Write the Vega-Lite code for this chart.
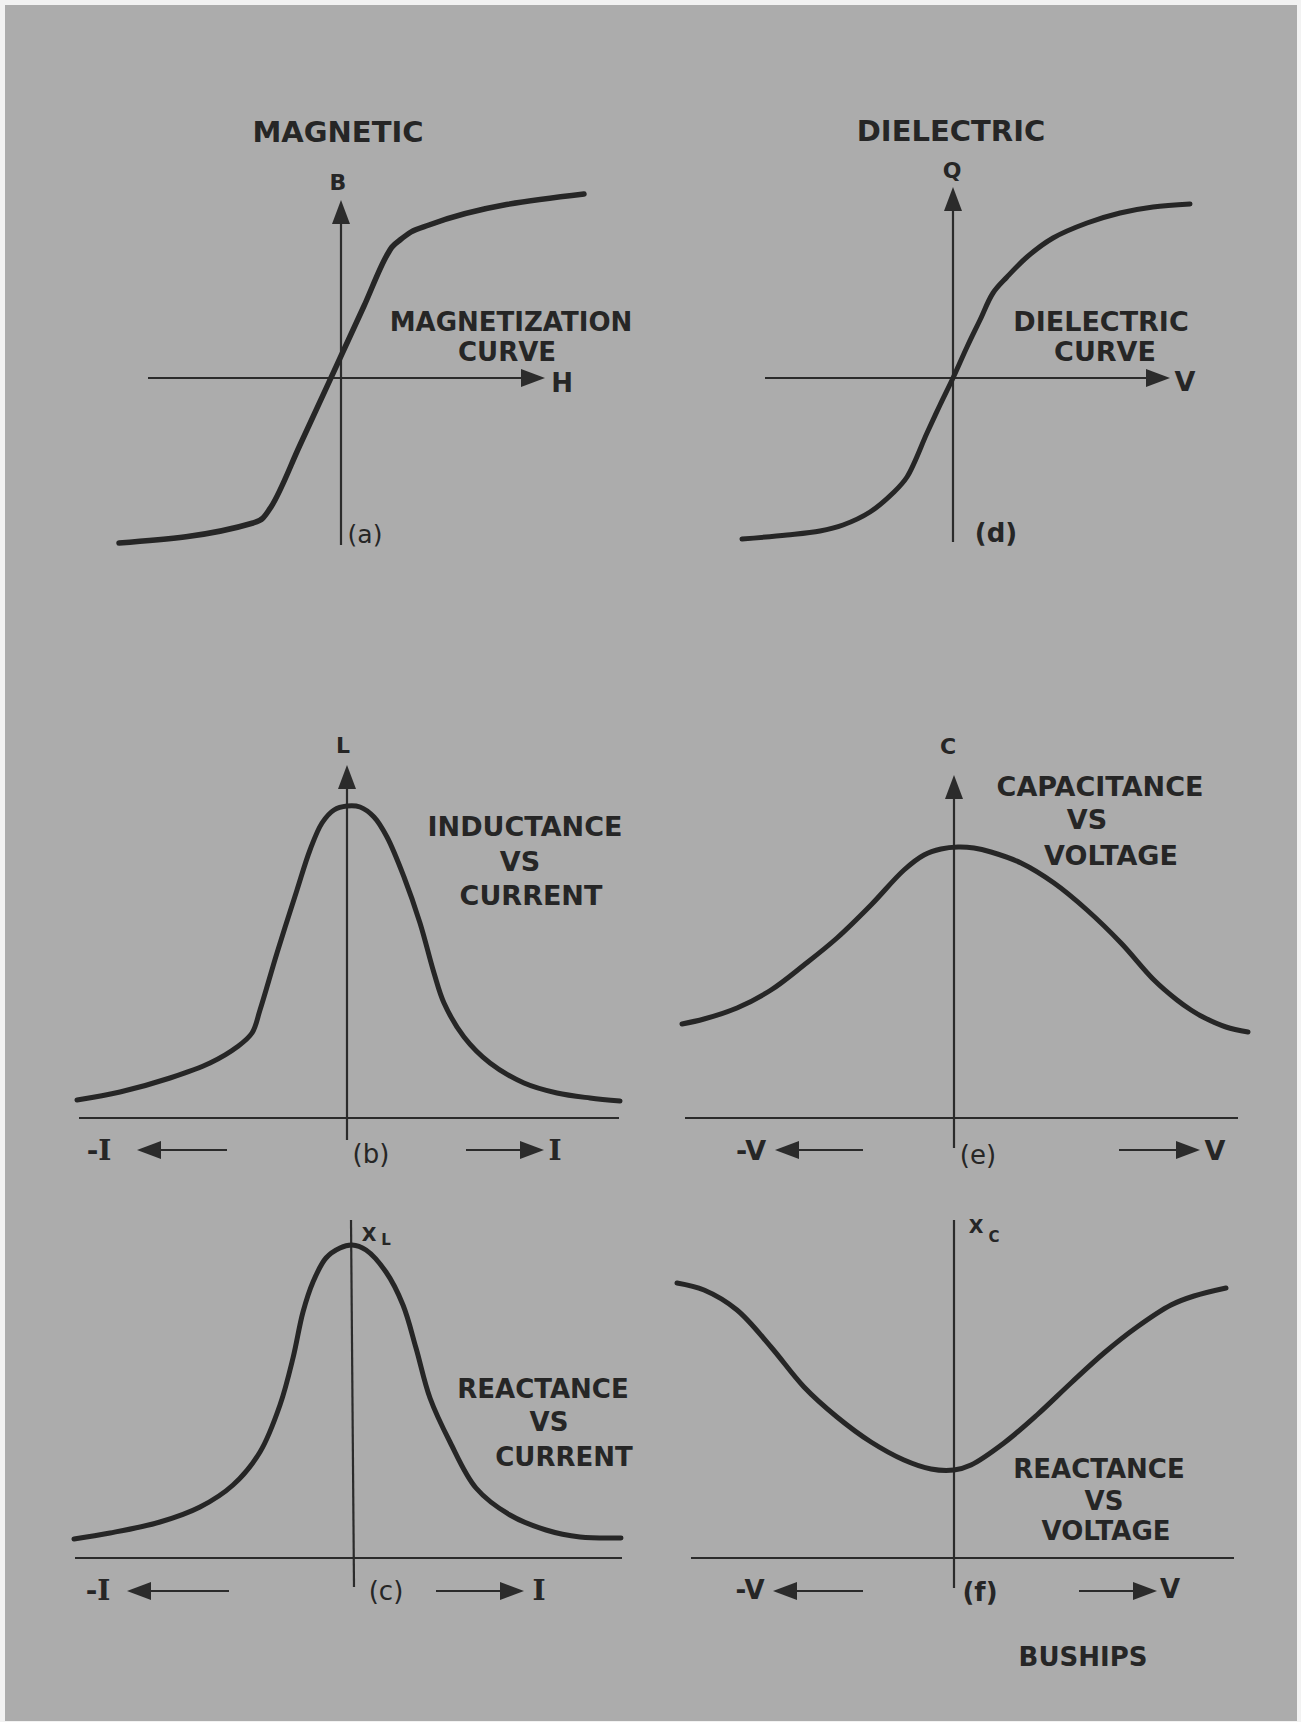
{
"$schema": "https://vega.github.io/schema/vega-lite/v6.json",
"background": "#f2f2f2",
"padding": {"left": 5, "top": 5, "right": 4, "bottom": 1},
"config": {"view": {"fill": "#acacac", "stroke": null}},
"columns": 2,
"spacing": 0,
"bounds": "flush",
"resolve": {"scale": {"x": "independent", "y": "independent", "shape": "independent"}},
"datasets": {
"curves": [
{"panel":"a","x":-2.22,"y":-1.65},{"panel":"a","x":-0.88,"y":-1.45},{"panel":"a","x":-0.78,"y":-1.40},{"panel":"a","x":-0.70,"y":-1.29},{"panel":"a","x":-0.41,"y":-0.67},{"panel":"a","x":0,"y":0.22},{"panel":"a","x":0.23,"y":0.72},{"panel":"a","x":0.46,"y":1.23},{"panel":"a","x":0.51,"y":1.31},{"panel":"a","x":0.59,"y":1.38},{"panel":"a","x":0.70,"y":1.46},{"panel":"a","x":0.88,"y":1.53},{"panel":"a","x":2.43,"y":1.84},
{"panel":"d","x":-2.11,"y":-1.61},{"panel":"d","x":-1.66,"y":-1.57},{"panel":"d","x":-1.33,"y":-1.53},{"panel":"d","x":-1.10,"y":-1.47},{"panel":"d","x":-0.83,"y":-1.34},{"panel":"d","x":-0.60,"y":-1.15},{"panel":"d","x":-0.46,"y":-0.99},{"panel":"d","x":-0.26,"y":-0.55},{"panel":"d","x":-0.13,"y":-0.27},{"panel":"d","x":0,"y":0},{"panel":"d","x":0.14,"y":0.31},{"panel":"d","x":0.27,"y":0.58},{"panel":"d","x":0.40,"y":0.85},{"panel":"d","x":0.54,"y":1.01},{"panel":"d","x":0.74,"y":1.21},{"panel":"d","x":1.00,"y":1.40},{"panel":"d","x":1.34,"y":1.55},{"panel":"d","x":1.67,"y":1.65},{"panel":"d","x":2.00,"y":1.71},{"panel":"d","x":2.37,"y":1.74},
{"panel":"b","x":-2.70,"y":0.18},{"panel":"b","x":-2.27,"y":0.26},{"panel":"b","x":-1.77,"y":0.40},{"panel":"b","x":-1.37,"y":0.55},{"panel":"b","x":-1.10,"y":0.71},{"panel":"b","x":-0.95,"y":0.85},{"panel":"b","x":-0.87,"y":1.08},{"panel":"b","x":-0.70,"y":1.65},{"panel":"b","x":-0.50,"y":2.28},{"panel":"b","x":-0.37,"y":2.68},{"panel":"b","x":-0.25,"y":2.95},{"panel":"b","x":-0.13,"y":3.08},{"panel":"b","x":0,"y":3.12},{"panel":"b","x":0.13,"y":3.11},{"panel":"b","x":0.27,"y":3.01},{"panel":"b","x":0.40,"y":2.81},{"panel":"b","x":0.57,"y":2.41},{"panel":"b","x":0.73,"y":1.95},{"panel":"b","x":0.87,"y":1.45},{"panel":"b","x":0.97,"y":1.15},{"panel":"b","x":1.17,"y":0.81},{"panel":"b","x":1.43,"y":0.55},{"panel":"b","x":1.77,"y":0.35},{"panel":"b","x":2.10,"y":0.25},{"panel":"b","x":2.43,"y":0.20},{"panel":"b","x":2.73,"y":0.17},
{"panel":"e","x":-2.72,"y":0.94},{"panel":"e","x":-2.50,"y":0.99},{"panel":"e","x":-2.17,"y":1.10},{"panel":"e","x":-1.83,"y":1.28},{"panel":"e","x":-1.50,"y":1.53},{"panel":"e","x":-1.17,"y":1.80},{"panel":"e","x":-0.83,"y":2.13},{"panel":"e","x":-0.50,"y":2.48},{"panel":"e","x":-0.30,"y":2.63},{"panel":"e","x":-0.13,"y":2.69},{"panel":"e","x":0.04,"y":2.71},{"panel":"e","x":0.20,"y":2.70},{"panel":"e","x":0.37,"y":2.66},{"panel":"e","x":0.67,"y":2.55},{"panel":"e","x":1.00,"y":2.35},{"panel":"e","x":1.33,"y":2.08},{"panel":"e","x":1.67,"y":1.75},{"panel":"e","x":2.00,"y":1.38},{"panel":"e","x":2.23,"y":1.18},{"panel":"e","x":2.37,"y":1.08},{"panel":"e","x":2.49,"y":1.01},{"panel":"e","x":2.72,"y":0.91},{"panel":"e","x":2.94,"y":0.86},
{"panel":"c","x":-2.78,"y":0.19},{"panel":"c","x":-2.42,"y":0.25},{"panel":"c","x":-1.92,"y":0.36},{"panel":"c","x":-1.52,"y":0.51},{"panel":"c","x":-1.19,"y":0.73},{"panel":"c","x":-0.92,"y":1.06},{"panel":"c","x":-0.72,"y":1.53},{"panel":"c","x":-0.59,"y":2.00},{"panel":"c","x":-0.49,"y":2.46},{"panel":"c","x":-0.39,"y":2.76},{"panel":"c","x":-0.26,"y":3.00},{"panel":"c","x":-0.12,"y":3.10},{"panel":"c","x":0,"y":3.13},{"panel":"c","x":0.14,"y":3.08},{"panel":"c","x":0.34,"y":2.86},{"panel":"c","x":0.51,"y":2.53},{"panel":"c","x":0.64,"y":2.10},{"panel":"c","x":0.78,"y":1.60},{"panel":"c","x":0.98,"y":1.16},{"panel":"c","x":1.24,"y":0.70},{"panel":"c","x":1.58,"y":0.43},{"panel":"c","x":1.94,"y":0.28},{"panel":"c","x":2.28,"y":0.21},{"panel":"c","x":2.69,"y":0.20},
{"panel":"f","x":-2.77,"y":2.75},{"panel":"f","x":-2.50,"y":2.68},{"panel":"f","x":-2.17,"y":2.48},{"panel":"f","x":-1.83,"y":2.11},{"panel":"f","x":-1.50,"y":1.71},{"panel":"f","x":-1.17,"y":1.41},{"panel":"f","x":-0.83,"y":1.16},{"panel":"f","x":-0.50,"y":0.98},{"panel":"f","x":-0.23,"y":0.89},{"panel":"f","x":0,"y":0.88},{"panel":"f","x":0.17,"y":0.93},{"panel":"f","x":0.50,"y":1.15},{"panel":"f","x":0.83,"y":1.43},{"panel":"f","x":1.17,"y":1.75},{"panel":"f","x":1.50,"y":2.05},{"panel":"f","x":1.83,"y":2.31},{"panel":"f","x":2.17,"y":2.53},{"panel":"f","x":2.40,"y":2.62},{"panel":"f","x":2.72,"y":2.70}
],
"rules": [
{"panel":"a","x":-1.93,"x2":1.95,"y":0,"y2":0},{"panel":"a","x":0,"x2":0,"y":-1.67,"y2":1.65},
{"panel":"d","x":-1.88,"x2":2.05,"y":0,"y2":0},{"panel":"d","x":0,"x2":0,"y":-1.64,"y2":1.80},
{"panel":"b","x":-2.68,"x2":2.72,"y":0,"y2":0},{"panel":"b","x":0,"x2":0,"y":-0.22,"y2":3.40},{"panel":"b","x":-2.02,"x2":-1.20,"y":-0.32,"y2":-0.32},{"panel":"b","x":1.19,"x2":1.88,"y":-0.32,"y2":-0.32},
{"panel":"e","x":-2.69,"x2":2.84,"y":0,"y2":0},{"panel":"e","x":0,"x2":0,"y":-0.30,"y2":3.30},{"panel":"e","x":-1.70,"x2":-0.91,"y":-0.32,"y2":-0.32},{"panel":"e","x":1.65,"x2":2.37,"y":-0.32,"y2":-0.32},
{"panel":"c","x":-2.77,"x2":2.70,"y":0,"y2":0},{"panel":"c","x":-0.01,"x2":0.02,"y":3.38,"y2":-0.29},{"panel":"c","x":-2.17,"x2":-1.23,"y":-0.33,"y2":-0.33},{"panel":"c","x":0.84,"x2":1.64,"y":-0.33,"y2":-0.33},
{"panel":"f","x":-2.63,"x2":2.80,"y":0,"y2":0},{"panel":"f","x":0,"x2":0,"y":-0.30,"y2":3.38},{"panel":"f","x":-1.72,"x2":-0.91,"y":-0.33,"y2":-0.33},{"panel":"f","x":1.25,"x2":1.94,"y":-0.33,"y2":-0.33}
],
"heads": [
{"panel":"a","x":2.04,"y":0,"dir":"right"},{"panel":"a","x":0,"y":1.78,"dir":"up"},
{"panel":"d","x":2.17,"y":0,"dir":"right"},{"panel":"d","x":0,"y":1.91,"dir":"up"},
{"panel":"b","x":0,"y":3.53,"dir":"up"},{"panel":"b","x":-2.10,"y":-0.32,"dir":"left"},{"panel":"b","x":1.97,"y":-0.32,"dir":"right"},
{"panel":"e","x":0,"y":3.43,"dir":"up"},{"panel":"e","x":-1.79,"y":-0.32,"dir":"left"},{"panel":"e","x":2.46,"y":-0.32,"dir":"right"},
{"panel":"c","x":-2.25,"y":-0.33,"dir":"left"},{"panel":"c","x":1.72,"y":-0.33,"dir":"right"},
{"panel":"f","x":-1.81,"y":-0.33,"dir":"left"},{"panel":"f","x":2.03,"y":-0.33,"dir":"right"}
],
"labels": [
{"panel":"a","kind":"title","x":-0.03,"y":2.45,"text":"MAGNETIC"},
{"panel":"a","kind":"axis","x":-0.03,"y":1.95,"text":"B"},
{"panel":"a","kind":"caption","x":2.21,"y":-0.06,"text":"H"},
{"panel":"a","kind":"caption","x":1.70,"y":0.55,"text":"MAGNETIZATION"},
{"panel":"a","kind":"caption","x":1.66,"y":0.25,"text":"CURVE"},
{"panel":"a","kind":"panel","x":0.24,"y":-1.57,"text":"(a)"},
{"panel":"d","kind":"title","x":-0.02,"y":2.46,"text":"DIELECTRIC"},
{"panel":"d","kind":"axis","x":-0.01,"y":2.07,"text":"Q"},
{"panel":"d","kind":"caption","x":2.32,"y":-0.05,"text":"V"},
{"panel":"d","kind":"caption","x":1.48,"y":0.55,"text":"DIELECTRIC"},
{"panel":"d","kind":"caption","x":1.52,"y":0.25,"text":"CURVE"},
{"panel":"d","kind":"panel","x":0.43,"y":-1.56,"text":"(d)"},
{"panel":"b","kind":"axis","x":-0.04,"y":3.72,"text":"L"},
{"panel":"b","kind":"caption","x":1.78,"y":2.90,"text":"INDUCTANCE"},
{"panel":"b","kind":"caption","x":1.73,"y":2.55,"text":"VS"},
{"panel":"b","kind":"caption","x":1.84,"y":2.21,"text":"CURRENT"},
{"panel":"b","kind":"ilabel","x":-2.48,"y":-0.34,"text":"-I"},
{"panel":"b","kind":"panel","x":0.24,"y":-0.37,"text":"(b)"},
{"panel":"b","kind":"ilabel","x":2.08,"y":-0.34,"text":"I"},
{"panel":"e","kind":"axis","x":-0.06,"y":3.71,"text":"C"},
{"panel":"e","kind":"caption","x":1.46,"y":3.30,"text":"CAPACITANCE"},
{"panel":"e","kind":"caption","x":1.33,"y":2.97,"text":"VS"},
{"panel":"e","kind":"caption","x":1.57,"y":2.61,"text":"VOLTAGE"},
{"panel":"e","kind":"caption","x":-2.03,"y":-0.34,"text":"-V"},
{"panel":"e","kind":"panel","x":0.24,"y":-0.38,"text":"(e)"},
{"panel":"e","kind":"caption","x":2.61,"y":-0.34,"text":"V"},
{"panel":"c","kind":"xsym","x":0.17,"y":3.23,"text":"X"},
{"panel":"c","kind":"sub","x":0.34,"y":3.18,"text":"L"},
{"panel":"c","kind":"caption","x":1.91,"y":1.68,"text":"REACTANCE"},
{"panel":"c","kind":"caption","x":1.97,"y":1.35,"text":"VS"},
{"panel":"c","kind":"caption","x":2.12,"y":1.00,"text":"CURRENT"},
{"panel":"c","kind":"ilabel","x":-2.54,"y":-0.34,"text":"-I"},
{"panel":"c","kind":"panel","x":0.34,"y":-0.34,"text":"(c)"},
{"panel":"c","kind":"ilabel","x":1.87,"y":-0.34,"text":"I"},
{"panel":"f","kind":"xsym","x":0.22,"y":3.31,"text":"X"},
{"panel":"f","kind":"sub","x":0.40,"y":3.21,"text":"C"},
{"panel":"f","kind":"caption","x":1.45,"y":0.88,"text":"REACTANCE"},
{"panel":"f","kind":"caption","x":1.50,"y":0.56,"text":"VS"},
{"panel":"f","kind":"caption","x":1.52,"y":0.26,"text":"VOLTAGE"},
{"panel":"f","kind":"caption","x":-2.04,"y":-0.33,"text":"-V"},
{"panel":"f","kind":"panel","x":0.26,"y":-0.35,"text":"(f)"},
{"panel":"f","kind":"caption","x":2.16,"y":-0.32,"text":"V"},
{"panel":"f","kind":"caption","x":1.29,"y":-1.00,"text":"BUSHIPS"}
]
},
"concat": [
{
"width": 645, "height": 635,
"encoding": {
"x": {"field": "x", "type": "quantitative", "scale": {"domain": [-3.36, 3.09], "nice": false, "zero": false}, "axis": null},
"y": {"field": "y", "type": "quantitative", "scale": {"domain": [-2.62, 3.73], "nice": false, "zero": false}, "axis": null}
},
"layer": [
{"data": {"name": "rules"}, "transform": [{"filter": "datum.panel==='a'"}], "mark": {"type": "rule", "color": "#2b2b2b", "strokeWidth": 2.2}, "encoding": {"x2": {"field": "x2"}, "y2": {"field": "y2"}}},
{"data": {"name": "heads"}, "transform": [{"filter": "datum.panel==='a'"}], "mark": {"type": "point", "filled": true, "opacity": 1, "size": 576, "color": "#2b2b2b"}, "encoding": {"shape": {"field": "dir", "type": "nominal", "scale": {"domain": ["up", "right", "left"], "range": ["M0,0L-0.75,2L0.75,2Z", "M0,0L-2,-0.75L-2,0.75Z", "M0,0L2,-0.75L2,0.75Z"]}, "legend": null}}},
{"data": {"name": "curves"}, "transform": [{"filter": "datum.panel==='a'"}], "mark": {"type": "line", "color": "#262626", "strokeWidth": 5.5, "interpolate": "monotone", "strokeCap": "round"}, "encoding": {}},
{"data": {"name": "labels"}, "transform": [{"filter": "datum.panel==='a' && datum.kind==='title'"}], "mark": {"type": "text", "font": "DejaVu Sans", "fontWeight": "bold", "fontSize": 29, "color": "#262626", "align": "center", "baseline": "middle"}, "encoding": {"text": {"field": "text"}}},
{"data": {"name": "labels"}, "transform": [{"filter": "datum.panel==='a' && datum.kind==='caption'"}], "mark": {"type": "text", "font": "DejaVu Sans", "fontWeight": "bold", "fontSize": 26, "color": "#262626", "align": "center", "baseline": "middle"}, "encoding": {"text": {"field": "text"}}},
{"data": {"name": "labels"}, "transform": [{"filter": "datum.panel==='a' && datum.kind==='axis'"}], "mark": {"type": "text", "font": "DejaVu Sans", "fontWeight": "bold", "fontSize": 22, "color": "#262626", "align": "center", "baseline": "middle"}, "encoding": {"text": {"field": "text"}}},
{"data": {"name": "labels"}, "transform": [{"filter": "datum.panel==='a' && datum.kind==='panel'"}], "mark": {"type": "text", "font": "DejaVu Sans", "fontWeight": "normal", "fontSize": 25, "color": "#262626", "align": "center", "baseline": "middle"}, "encoding": {"text": {"field": "text"}}}
]
},
{
"width": 647, "height": 635,
"encoding": {
"x": {"field": "x", "type": "quantitative", "scale": {"domain": [-3.03, 3.44], "nice": false, "zero": false}, "axis": null},
"y": {"field": "y", "type": "quantitative", "scale": {"domain": [-2.62, 3.73], "nice": false, "zero": false}, "axis": null}
},
"layer": [
{"data": {"name": "rules"}, "transform": [{"filter": "datum.panel==='d'"}], "mark": {"type": "rule", "color": "#2b2b2b", "strokeWidth": 2.2}, "encoding": {"x2": {"field": "x2"}, "y2": {"field": "y2"}}},
{"data": {"name": "heads"}, "transform": [{"filter": "datum.panel==='d'"}], "mark": {"type": "point", "filled": true, "opacity": 1, "size": 576, "color": "#2b2b2b"}, "encoding": {"shape": {"field": "dir", "type": "nominal", "scale": {"domain": ["up", "right", "left"], "range": ["M0,0L-0.75,2L0.75,2Z", "M0,0L-2,-0.75L-2,0.75Z", "M0,0L2,-0.75L2,0.75Z"]}, "legend": null}}},
{"data": {"name": "curves"}, "transform": [{"filter": "datum.panel==='d'"}], "mark": {"type": "line", "color": "#262626", "strokeWidth": 5, "interpolate": "catmull-rom", "strokeCap": "round"}, "encoding": {}},
{"data": {"name": "labels"}, "transform": [{"filter": "datum.panel==='d' && datum.kind==='title'"}], "mark": {"type": "text", "font": "DejaVu Sans", "fontWeight": "bold", "fontSize": 29, "color": "#262626", "align": "center", "baseline": "middle"}, "encoding": {"text": {"field": "text"}}},
{"data": {"name": "labels"}, "transform": [{"filter": "datum.panel==='d' && datum.kind==='caption'"}], "mark": {"type": "text", "font": "DejaVu Sans", "fontWeight": "bold", "fontSize": 27, "color": "#262626", "align": "center", "baseline": "middle"}, "encoding": {"text": {"field": "text"}}},
{"data": {"name": "labels"}, "transform": [{"filter": "datum.panel==='d' && datum.kind==='axis'"}], "mark": {"type": "text", "font": "DejaVu Sans", "fontWeight": "bold", "fontSize": 22, "color": "#262626", "align": "center", "baseline": "middle"}, "encoding": {"text": {"field": "text"}}},
{"data": {"name": "labels"}, "transform": [{"filter": "datum.panel==='d' && datum.kind==='panel'"}], "mark": {"type": "text", "font": "DejaVu Sans", "fontWeight": "bold", "fontSize": 26, "color": "#262626", "align": "center", "baseline": "middle"}, "encoding": {"text": {"field": "text"}}}
]
},
{
"width": 645, "height": 550,
"encoding": {
"x": {"field": "x", "type": "quantitative", "scale": {"domain": [-3.42, 3.03], "nice": false, "zero": false}, "axis": null},
"y": {"field": "y", "type": "quantitative", "scale": {"domain": [-0.72, 4.78], "nice": false, "zero": false}, "axis": null}
},
"layer": [
{"data": {"name": "rules"}, "transform": [{"filter": "datum.panel==='b'"}], "mark": {"type": "rule", "color": "#2b2b2b", "strokeWidth": 2.2}, "encoding": {"x2": {"field": "x2"}, "y2": {"field": "y2"}}},
{"data": {"name": "heads"}, "transform": [{"filter": "datum.panel==='b'"}], "mark": {"type": "point", "filled": true, "opacity": 1, "size": 576, "color": "#2b2b2b"}, "encoding": {"shape": {"field": "dir", "type": "nominal", "scale": {"domain": ["up", "right", "left"], "range": ["M0,0L-0.75,2L0.75,2Z", "M0,0L-2,-0.75L-2,0.75Z", "M0,0L2,-0.75L2,0.75Z"]}, "legend": null}}},
{"data": {"name": "curves"}, "transform": [{"filter": "datum.panel==='b'"}], "mark": {"type": "line", "color": "#262626", "strokeWidth": 5, "interpolate": "catmull-rom", "strokeCap": "round"}, "encoding": {}},
{"data": {"name": "labels"}, "transform": [{"filter": "datum.panel==='b' && datum.kind==='caption'"}], "mark": {"type": "text", "font": "DejaVu Sans", "fontWeight": "bold", "fontSize": 27, "color": "#262626", "align": "center", "baseline": "middle"}, "encoding": {"text": {"field": "text"}}},
{"data": {"name": "labels"}, "transform": [{"filter": "datum.panel==='b' && datum.kind==='axis'"}], "mark": {"type": "text", "font": "DejaVu Sans", "fontWeight": "bold", "fontSize": 22, "color": "#262626", "align": "center", "baseline": "middle"}, "encoding": {"text": {"field": "text"}}},
{"data": {"name": "labels"}, "transform": [{"filter": "datum.panel==='b' && datum.kind==='ilabel'"}], "mark": {"type": "text", "font": "DejaVu Serif", "fontWeight": "bold", "fontSize": 28, "color": "#262626", "align": "center", "baseline": "middle"}, "encoding": {"text": {"field": "text"}}},
{"data": {"name": "labels"}, "transform": [{"filter": "datum.panel==='b' && datum.kind==='panel'"}], "mark": {"type": "text", "font": "DejaVu Sans", "fontWeight": "normal", "fontSize": 26, "color": "#262626", "align": "center", "baseline": "middle"}, "encoding": {"text": {"field": "text"}}}
]
},
{
"width": 647, "height": 550,
"encoding": {
"x": {"field": "x", "type": "quantitative", "scale": {"domain": [-3.04, 3.43], "nice": false, "zero": false}, "axis": null},
"y": {"field": "y", "type": "quantitative", "scale": {"domain": [-0.72, 4.78], "nice": false, "zero": false}, "axis": null}
},
"layer": [
{"data": {"name": "rules"}, "transform": [{"filter": "datum.panel==='e'"}], "mark": {"type": "rule", "color": "#2b2b2b", "strokeWidth": 2.2}, "encoding": {"x2": {"field": "x2"}, "y2": {"field": "y2"}}},
{"data": {"name": "heads"}, "transform": [{"filter": "datum.panel==='e'"}], "mark": {"type": "point", "filled": true, "opacity": 1, "size": 576, "color": "#2b2b2b"}, "encoding": {"shape": {"field": "dir", "type": "nominal", "scale": {"domain": ["up", "right", "left"], "range": ["M0,0L-0.75,2L0.75,2Z", "M0,0L-2,-0.75L-2,0.75Z", "M0,0L2,-0.75L2,0.75Z"]}, "legend": null}}},
{"data": {"name": "curves"}, "transform": [{"filter": "datum.panel==='e'"}], "mark": {"type": "line", "color": "#262626", "strokeWidth": 5, "interpolate": "catmull-rom", "strokeCap": "round"}, "encoding": {}},
{"data": {"name": "labels"}, "transform": [{"filter": "datum.panel==='e' && datum.kind==='caption'"}], "mark": {"type": "text", "font": "DejaVu Sans", "fontWeight": "bold", "fontSize": 27, "color": "#262626", "align": "center", "baseline": "middle"}, "encoding": {"text": {"field": "text"}}},
{"data": {"name": "labels"}, "transform": [{"filter": "datum.panel==='e' && datum.kind==='axis'"}], "mark": {"type": "text", "font": "DejaVu Sans", "fontWeight": "bold", "fontSize": 22, "color": "#262626", "align": "center", "baseline": "middle"}, "encoding": {"text": {"field": "text"}}},
{"data": {"name": "labels"}, "transform": [{"filter": "datum.panel==='e' && datum.kind==='panel'"}], "mark": {"type": "text", "font": "DejaVu Sans", "fontWeight": "normal", "fontSize": 26, "color": "#262626", "align": "center", "baseline": "middle"}, "encoding": {"text": {"field": "text"}}}
]
},
{
"width": 645, "height": 531,
"encoding": {
"x": {"field": "x", "type": "quantitative", "scale": {"domain": [-3.47, 2.98], "nice": false, "zero": false}, "axis": null},
"y": {"field": "y", "type": "quantitative", "scale": {"domain": [-1.63, 3.68], "nice": false, "zero": false}, "axis": null}
},
"layer": [
{"data": {"name": "rules"}, "transform": [{"filter": "datum.panel==='c'"}], "mark": {"type": "rule", "color": "#2b2b2b", "strokeWidth": 2.2}, "encoding": {"x2": {"field": "x2"}, "y2": {"field": "y2"}}},
{"data": {"name": "heads"}, "transform": [{"filter": "datum.panel==='c'"}], "mark": {"type": "point", "filled": true, "opacity": 1, "size": 576, "color": "#2b2b2b"}, "encoding": {"shape": {"field": "dir", "type": "nominal", "scale": {"domain": ["up", "right", "left"], "range": ["M0,0L-0.75,2L0.75,2Z", "M0,0L-2,-0.75L-2,0.75Z", "M0,0L2,-0.75L2,0.75Z"]}, "legend": null}}},
{"data": {"name": "curves"}, "transform": [{"filter": "datum.panel==='c'"}], "mark": {"type": "line", "color": "#262626", "strokeWidth": 5, "interpolate": "catmull-rom", "strokeCap": "round"}, "encoding": {}},
{"data": {"name": "labels"}, "transform": [{"filter": "datum.panel==='c' && datum.kind==='caption'"}], "mark": {"type": "text", "font": "DejaVu Sans", "fontWeight": "bold", "fontSize": 26, "color": "#262626", "align": "center", "baseline": "middle"}, "encoding": {"text": {"field": "text"}}},
{"data": {"name": "labels"}, "transform": [{"filter": "datum.panel==='c' && datum.kind==='ilabel'"}], "mark": {"type": "text", "font": "DejaVu Serif", "fontWeight": "bold", "fontSize": 28, "color": "#262626", "align": "center", "baseline": "middle"}, "encoding": {"text": {"field": "text"}}},
{"data": {"name": "labels"}, "transform": [{"filter": "datum.panel==='c' && datum.kind==='panel'"}], "mark": {"type": "text", "font": "DejaVu Sans", "fontWeight": "normal", "fontSize": 26, "color": "#262626", "align": "center", "baseline": "middle"}, "encoding": {"text": {"field": "text"}}},
{"data": {"name": "labels"}, "transform": [{"filter": "datum.panel==='c' && datum.kind==='xsym'"}], "mark": {"type": "text", "font": "DejaVu Sans", "fontWeight": "bold", "fontSize": 19, "color": "#262626", "align": "center", "baseline": "middle"}, "encoding": {"text": {"field": "text"}}},
{"data": {"name": "labels"}, "transform": [{"filter": "datum.panel==='c' && datum.kind==='sub'"}], "mark": {"type": "text", "font": "DejaVu Sans", "fontWeight": "bold", "fontSize": 15, "color": "#262626", "align": "center", "baseline": "middle"}, "encoding": {"text": {"field": "text"}}}
]
},
{
"width": 647, "height": 531,
"encoding": {
"x": {"field": "x", "type": "quantitative", "scale": {"domain": [-3.04, 3.43], "nice": false, "zero": false}, "axis": null},
"y": {"field": "y", "type": "quantitative", "scale": {"domain": [-1.63, 3.68], "nice": false, "zero": false}, "axis": null}
},
"layer": [
{"data": {"name": "rules"}, "transform": [{"filter": "datum.panel==='f'"}], "mark": {"type": "rule", "color": "#2b2b2b", "strokeWidth": 2.2}, "encoding": {"x2": {"field": "x2"}, "y2": {"field": "y2"}}},
{"data": {"name": "heads"}, "transform": [{"filter": "datum.panel==='f'"}], "mark": {"type": "point", "filled": true, "opacity": 1, "size": 576, "color": "#2b2b2b"}, "encoding": {"shape": {"field": "dir", "type": "nominal", "scale": {"domain": ["up", "right", "left"], "range": ["M0,0L-0.75,2L0.75,2Z", "M0,0L-2,-0.75L-2,0.75Z", "M0,0L2,-0.75L2,0.75Z"]}, "legend": null}}},
{"data": {"name": "curves"}, "transform": [{"filter": "datum.panel==='f'"}], "mark": {"type": "line", "color": "#262626", "strokeWidth": 5, "interpolate": "catmull-rom", "strokeCap": "round"}, "encoding": {}},
{"data": {"name": "labels"}, "transform": [{"filter": "datum.panel==='f' && datum.kind==='caption'"}], "mark": {"type": "text", "font": "DejaVu Sans", "fontWeight": "bold", "fontSize": 26, "color": "#262626", "align": "center", "baseline": "middle"}, "encoding": {"text": {"field": "text"}}},
{"data": {"name": "labels"}, "transform": [{"filter": "datum.panel==='f' && datum.kind==='panel'"}], "mark": {"type": "text", "font": "DejaVu Sans", "fontWeight": "bold", "fontSize": 26, "color": "#262626", "align": "center", "baseline": "middle"}, "encoding": {"text": {"field": "text"}}},
{"data": {"name": "labels"}, "transform": [{"filter": "datum.panel==='f' && datum.kind==='xsym'"}], "mark": {"type": "text", "font": "DejaVu Sans", "fontWeight": "bold", "fontSize": 19, "color": "#262626", "align": "center", "baseline": "middle"}, "encoding": {"text": {"field": "text"}}},
{"data": {"name": "labels"}, "transform": [{"filter": "datum.panel==='f' && datum.kind==='sub'"}], "mark": {"type": "text", "font": "DejaVu Sans", "fontWeight": "bold", "fontSize": 15, "color": "#262626", "align": "center", "baseline": "middle"}, "encoding": {"text": {"field": "text"}}}
]
}
]
}
